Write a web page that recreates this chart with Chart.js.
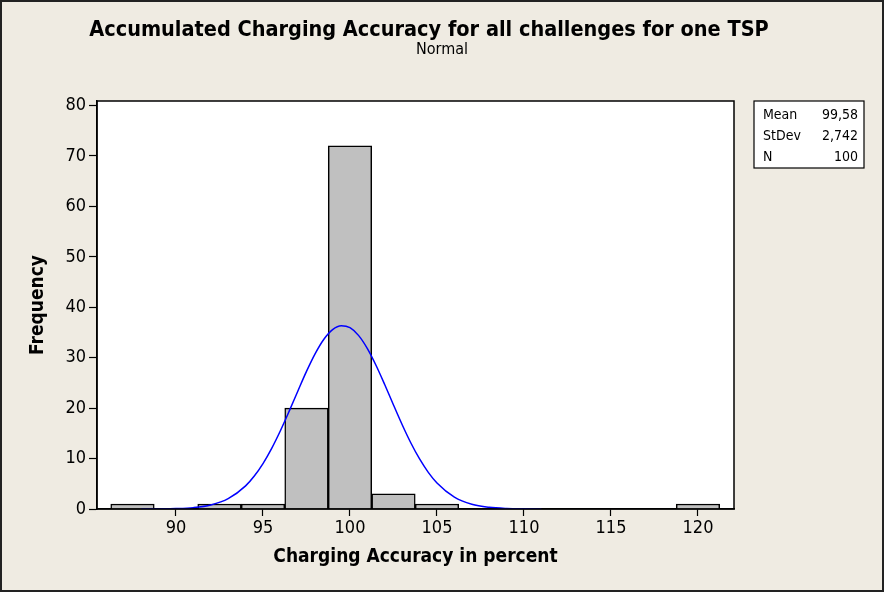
<!DOCTYPE html>
<html>
<head>
<meta charset="utf-8">
<script src="https://cdn.jsdelivr.net/npm/chart.js@4.4.1/dist/chart.umd.min.js"></script>
<style>
  html, body { margin: 0; padding: 0; background: #efebe2; }
  canvas { display: block; }
</style>
</head>
<body>
<canvas id="histChart" width="884" height="592"></canvas>
<script>
// histogram bins (bin width 2.5)
const binCenters = [87.5, 90, 92.5, 95, 97.5, 100, 102.5, 105, 107.5, 110, 112.5, 115, 117.5, 120];
const frequencies = [1, 0, 1, 1, 20, 72, 3, 1, 0, 0, 0, 0, 0, 1];

// fitted normal curve
const curveX = [88, 89, 90, 91, 92, 93, 94, 94.5, 95, 95.5, 96, 96.5, 97, 97.5, 98, 98.5, 99, 99.5,
  100, 100.5, 101, 101.5, 102, 102.5, 103, 103.5, 104, 104.5, 105, 106, 107, 108, 109, 110, 111];
const curveY = [0.0, 0.02, 0.08, 0.27, 0.8, 2.04, 4.58, 6.54, 9.01, 12.02, 15.51, 19.35, 23.36, 27.28, 30.81, 33.66, 35.57, 36.35,
  35.95, 34.38, 31.81, 28.46, 24.64, 20.63, 16.71, 13.09, 9.92, 7.27, 5.16, 2.35, 0.93, 0.33, 0.1, 0.03, 0.01];

const xTicks = [90, 95, 100, 105, 110, 115, 120];
const yTicks = [0, 10, 20, 30, 40, 50, 60, 70, 80];

const statLabels = ['Mean', 'StDev', 'N'];
const statValues = ['99,58', '2,742', '100'];

const chartTitle = 'Accumulated Charging Accuracy for all challenges for one TSP';
const chartSubtitle = 'Normal';

const FONT = '"DejaVu Sans Condensed", "DejaVu Sans", sans-serif';

const frame = {
  id: 'frame',
  beforeDraw(chart) {
    const ctx = chart.ctx;
    const a = chart.chartArea;
    ctx.save();
    ctx.fillStyle = '#efebe2';
    ctx.fillRect(0, 0, chart.width, chart.height);
    ctx.fillStyle = '#ffffff';
    ctx.fillRect(a.left, a.top, a.right - a.left, a.bottom - a.top);
    ctx.restore();
  },
  afterDraw(chart) {
    const ctx = chart.ctx;
    const a = chart.chartArea;
    ctx.save();
    // plot box
    ctx.strokeStyle = '#000';
    ctx.lineWidth = 1.5;
    ctx.strokeRect(a.left, a.top, a.right - a.left, a.bottom - a.top);
    // outer border
    ctx.strokeStyle = '#222';
    ctx.lineWidth = 2;
    ctx.strokeRect(1, 1, chart.width - 2, chart.height - 2);

    // titles
    ctx.fillStyle = '#000';
    ctx.textAlign = 'center';
    ctx.textBaseline = 'alphabetic';
    ctx.font = 'bold 21.5px ' + FONT;
    ctx.fillText(chartTitle, 429, 36);
    ctx.font = '16px ' + FONT;
    ctx.fillText(chartSubtitle, 442, 54);

    // stats box
    const bx = 754, by = 101, bw = 110, bh = 67;
    ctx.fillStyle = '#fff';
    ctx.fillRect(bx, by, bw, bh);
    ctx.strokeStyle = '#000';
    ctx.lineWidth = 1.2;
    ctx.strokeRect(bx, by, bw, bh);
    ctx.fillStyle = '#000';
    ctx.font = '14px ' + FONT;
    ctx.textBaseline = 'middle';
    statLabels.forEach((lab, i) => {
      const y = 115 + i * 21;
      ctx.textAlign = 'left';
      ctx.fillText(lab, bx + 9, y);
      ctx.textAlign = 'right';
      ctx.fillText(statValues[i], bx + bw - 6, y);
    });
    ctx.restore();
  }
};

const ctx = document.getElementById('histChart').getContext('2d');
new Chart(ctx, {
  type: 'bar',
  data: {
    datasets: [
      {
        type: 'line',
        data: curveX.map((x, i) => ({ x: x, y: curveY[i] })),
        borderColor: '#0000ff',
        borderWidth: 1.5,
        pointRadius: 0,
        fill: false,
        cubicInterpolationMode: 'monotone',
        order: 0
      },
      {
        type: 'bar',
        data: binCenters.map((x, i) => ({ x: x, y: frequencies[i] })),
        backgroundColor: '#c0c0c0',
        borderColor: '#000',
        borderWidth: 1.5,
        borderSkipped: 'bottom',
        barPercentage: 1,
        categoryPercentage: 1,
        order: 1
      }
    ]
  },
  options: {
    responsive: false,
    animation: false,
    devicePixelRatio: 1,
    layout: { padding: { left: 0, right: 150, top: 101, bottom: 0 } },
    plugins: {
      legend: { display: false },
      tooltip: { enabled: false },
      title: { display: false }
    },
    scales: {
      x: {
        type: 'linear',
        min: 85.46,
        max: 122.07,
        offset: false,
        afterBuildTicks: s => { s.ticks = xTicks.map(v => ({ value: v })); },
        afterFit: s => { s.height = 83; s.paddingLeft = 0; s.paddingRight = 0; },
        grid: { offset: false, drawOnChartArea: false, drawTicks: true, tickLength: 7, tickColor: '#000', tickWidth: 1.2 },
        border: { display: true, color: '#000', width: 1.5 },
        ticks: { color: '#000', font: { family: FONT, size: 18 }, padding: 2, maxRotation: 0 },
        title: {
          display: true,
          text: 'Charging Accuracy in percent',
          color: '#000',
          font: { family: FONT, size: 19, weight: 'bold' },
          padding: { top: 0, bottom: 24 }
        }
      },
      y: {
        min: 0,
        max: 80.9,
        afterBuildTicks: s => { s.ticks = yTicks.map(v => ({ value: v })); },
        afterFit: s => { s.width = 97; s.paddingTop = 0; s.paddingBottom = 0; },
        grid: { offset: false, drawOnChartArea: false, drawTicks: true, tickLength: 8, tickColor: '#000', tickWidth: 1.2 },
        border: { display: true, color: '#000', width: 1.5 },
        ticks: { color: '#000', font: { family: FONT, size: 18 }, padding: 3 },
        title: {
          display: true,
          text: 'Frequency',
          color: '#000',
          font: { family: FONT, size: 19, weight: 'bold' },
          padding: { top: 27, bottom: 0 }
        }
      }
    }
  },
  plugins: [frame]
});
</script>
</body>
</html>
